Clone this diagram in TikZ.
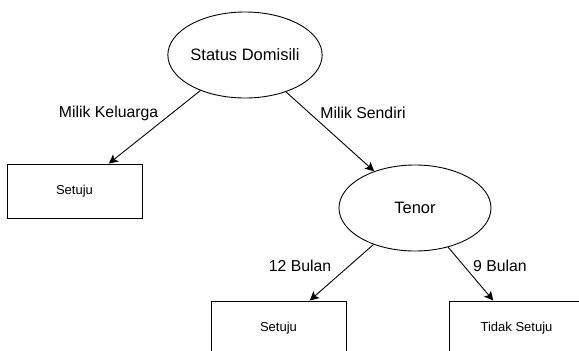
\documentclass[tikz,border=0pt]{standalone}
\usepackage{fontspec}
\setmainfont{Liberation Sans}
\usetikzlibrary{shapes.geometric,arrows.meta}
\begin{document}
\begin{tikzpicture}[x=1pt,y=-1pt,
 ell/.style={draw,ellipse,minimum width=152pt,minimum height=86pt,inner sep=0pt,line width=0.9pt,font=\fontsize{16.5}{20}\selectfont},
 box/.style={draw,rectangle,minimum width=135pt,minimum height=54pt,inner sep=0pt,line width=0.9pt,font=\fontsize{13}{16}\selectfont},
 lbl/.style={font=\fontsize{15.8}{19}\selectfont,inner sep=0pt},
 arr/.style={-{Stealth[length=9pt,width=9pt,inset=2pt]},line width=0.9pt}
]
\clip (0,0) rectangle (579,351);
\fill[white] (0,0) rectangle (579,351);
\node[ell] (sd) at (245,55) {Status Domisili};
\node[box] (s1) at (74.5,191) {Setuju};
\node[ell] (tn) at (415,208) {Tenor};
\node[box] (s2) at (278.5,328) {Setuju};
\node[box] (ts) at (516.5,328) {Tidak Setuju};
\draw[arr] (sd) -- (s1);
\draw[arr] (sd) -- (tn);
\draw[arr] (tn) -- (s2);
\draw[arr] (tn) -- (ts);
\node[lbl] (l1) at (108.6,113) {Milik Keluarga};
\node[lbl] (l2) at (363,113) {Milik Sendiri};
\node[lbl] (l3) at (300,266) {12 Bulan};
\node[lbl] (l4) at (500,266) {9 Bulan};
\end{tikzpicture}
\end{document}
